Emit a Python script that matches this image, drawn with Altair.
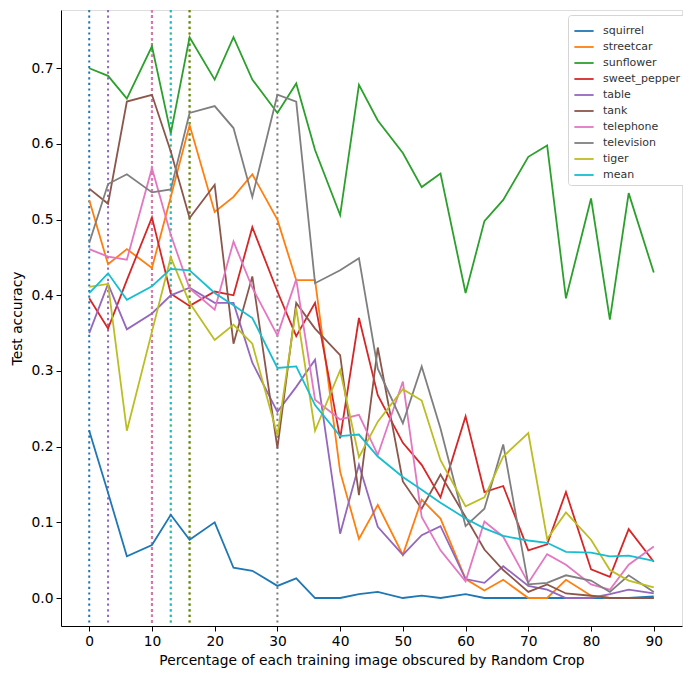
import altair as alt
import pandas as pd

x_vals = [0, 3, 6, 10, 13, 16, 20, 23, 26, 30, 33, 36, 40, 43, 46, 50, 53, 56, 60, 63, 66, 70, 73, 76, 80, 83, 86, 90]

squirrel = [0.221, 0.139, 0.055, 0.070, 0.110, 0.077, 0.100, 0.040, 0.036, 0.016, 0.026, 0.000, 0.000, 0.005, 0.008, 0.000, 0.003, 0.000, 0.005, 0.000, 0.000, 0.000, 0.000, 0.000, 0.000, 0.000, 0.000, 0.002]
streetcar = [0.526, 0.441, 0.461, 0.436, 0.530, 0.625, 0.510, 0.530, 0.560, 0.500, 0.420, 0.420, 0.167, 0.078, 0.123, 0.057, 0.130, 0.105, 0.025, 0.010, 0.024, 0.000, 0.000, 0.024, 0.003, 0.000, 0.000, 0.000]
sunflower = [0.700, 0.690, 0.660, 0.729, 0.614, 0.741, 0.685, 0.741, 0.685, 0.641, 0.680, 0.592, 0.506, 0.678, 0.631, 0.588, 0.543, 0.561, 0.403, 0.498, 0.526, 0.583, 0.598, 0.396, 0.528, 0.368, 0.535, 0.430]
sweet_pepper = [0.396, 0.356, 0.420, 0.503, 0.402, 0.386, 0.405, 0.400, 0.490, 0.405, 0.346, 0.390, 0.211, 0.370, 0.268, 0.205, 0.176, 0.133, 0.240, 0.140, 0.148, 0.063, 0.071, 0.140, 0.038, 0.028, 0.091, 0.048]
table = [0.350, 0.415, 0.355, 0.376, 0.400, 0.410, 0.390, 0.390, 0.311, 0.246, 0.279, 0.315, 0.085, 0.176, 0.094, 0.057, 0.083, 0.095, 0.025, 0.020, 0.042, 0.016, 0.011, 0.000, 0.000, 0.005, 0.011, 0.006]
tank = [0.541, 0.521, 0.656, 0.665, 0.590, 0.502, 0.546, 0.336, 0.425, 0.198, 0.390, 0.356, 0.321, 0.136, 0.331, 0.154, 0.118, 0.163, 0.107, 0.064, 0.037, 0.008, 0.018, 0.006, 0.003, 0.000, 0.000, 0.000]
telephone = [0.461, 0.451, 0.447, 0.568, 0.480, 0.409, 0.381, 0.471, 0.410, 0.347, 0.421, 0.262, 0.236, 0.242, 0.189, 0.286, 0.107, 0.063, 0.022, 0.101, 0.081, 0.020, 0.058, 0.044, 0.018, 0.011, 0.044, 0.068]
television = [0.469, 0.547, 0.560, 0.536, 0.540, 0.641, 0.650, 0.621, 0.530, 0.665, 0.656, 0.416, 0.433, 0.449, 0.303, 0.231, 0.306, 0.224, 0.095, 0.118, 0.203, 0.018, 0.020, 0.030, 0.023, 0.008, 0.030, 0.008]
tiger = [0.411, 0.415, 0.221, 0.352, 0.450, 0.390, 0.341, 0.361, 0.336, 0.215, 0.383, 0.221, 0.301, 0.186, 0.233, 0.276, 0.261, 0.182, 0.121, 0.133, 0.187, 0.218, 0.078, 0.113, 0.077, 0.037, 0.023, 0.014]
mean = [0.403, 0.429, 0.394, 0.412, 0.435, 0.433, 0.403, 0.387, 0.370, 0.304, 0.306, 0.255, 0.214, 0.216, 0.187, 0.160, 0.143, 0.126, 0.105, 0.092, 0.082, 0.076, 0.073, 0.061, 0.060, 0.055, 0.056, 0.049]

series_names = ["squirrel", "streetcar", "sunflower", "sweet_pepper", "table", "tank",
                "telephone", "television", "tiger", "mean"]
series_values = [squirrel, streetcar, sunflower, sweet_pepper, table, tank,
                 telephone, television, tiger, mean]
colors = ["#1f77b4", "#ff7f0e", "#2ca02c", "#d62728", "#9467bd", "#8c564b",
          "#e377c2", "#7f7f7f", "#bcbd22", "#17becf"]

rows = []
for name, vals in zip(series_names, series_values):
    for xv, v in zip(x_vals, vals):
        rows.append({"series": name, "pct": xv, "acc": v})
df = pd.DataFrame(rows)

# position of best accuracy for each series (first occurrence)
peaks = df.loc[df.groupby("series", sort=False)["acc"].idxmax()].reset_index(drop=True)

font = "DejaVu Sans"
fs = 13.8

xscale = alt.Scale(domain=[-4.5, 94.5], nice=False, zero=False)
yscale = alt.Scale(domain=[-0.037, 0.777], nice=False, zero=False)
cscale = alt.Scale(domain=series_names, range=colors)

xaxis = alt.Axis(values=list(range(0, 91, 10)), title="Percentage of each training image obscured by Random Crop",
                 grid=False, tickSize=5, tickColor="black", domainColor="black",
                 labelColor="black", titleColor="black", labelFontSize=fs, titleFontSize=fs,
                 labelFont=font, titleFont=font, titleFontWeight="normal", labelPadding=3, titlePadding=6)
yaxis = alt.Axis(values=[0.0, 0.1, 0.2, 0.3, 0.4, 0.5, 0.6, 0.7], format=".1f", title="Test accuracy",
                 grid=False, tickSize=5, tickColor="black", domainColor="black",
                 labelColor="black", titleColor="black", labelFontSize=fs, titleFontSize=fs,
                 labelFont=font, titleFont=font, titleFontWeight="normal", labelPadding=3, titlePadding=7)

legend = alt.Legend(title=None, orient="none", legendX=507, legendY=5,
                    symbolType="stroke", symbolSize=370, symbolStrokeWidth=1.8,
                    labelFontSize=11, labelFont=font, labelColor="#333333",
                    fillColor="white", strokeColor="#d5d5d5", padding=5,
                    cornerRadius=3, rowPadding=0, labelOffset=8)

rules = alt.Chart(peaks).mark_rule(strokeDash=[2.2, 3.4], strokeWidth=2).encode(
    x=alt.X("pct:Q", scale=xscale, axis=xaxis),
    color=alt.Color("series:N", scale=cscale, sort=series_names, legend=legend),
)

lines = alt.Chart(df).mark_line(strokeWidth=1.8).encode(
    x=alt.X("pct:Q", scale=xscale, axis=xaxis),
    y=alt.Y("acc:Q", scale=yscale, axis=yaxis),
    color=alt.Color("series:N", scale=cscale, sort=series_names, legend=legend),
    detail="series:N",
)

chart = alt.layer(rules, lines).properties(
    width=621, height=616,
    autosize=alt.AutoSizeParams(type="none"),
    padding={"left": 53, "top": 2, "right": 1, "bottom": 45},
).configure_view(stroke="black", strokeWidth=1).configure(font=font)

chart.save("out.html", embed_options={"renderer": "svg", "actions": False})
